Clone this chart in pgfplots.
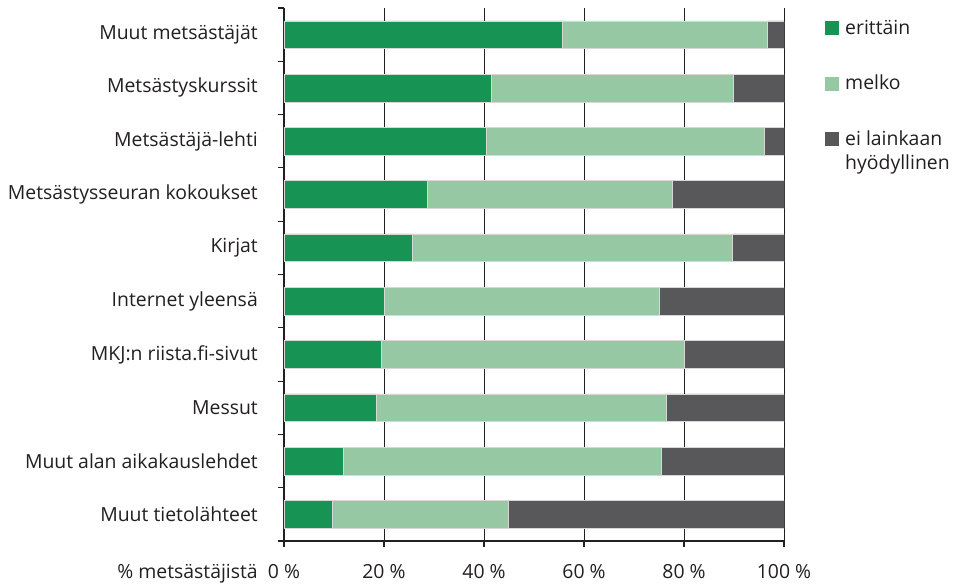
\documentclass[border=0pt]{standalone}
\usepackage{fontspec}
\setmainfont{Open Sans}
\usepackage{pgfplots}
\usepackage{pgfplotstable}
\pgfplotsset{compat=1.18}
\definecolor{dg}{RGB}{23,148,83}
\definecolor{lg}{RGB}{151,200,164}
\definecolor{gr}{RGB}{88,88,90}
\definecolor{txt}{RGB}{35,31,32}
\definecolor{edge}{RGB}{215,215,215}
\pgfplotsset{raisedsq/.style={legend image code/.code={\fill[##1, draw=none] (0pt,5pt) rectangle (14pt,19pt);}}}
\pgfplotstableread{
row e m ei
0 55.7 41.0 3.3
1 41.5 48.3 10.2
2 40.5 55.6 3.9
3 28.7 49.0 22.3
4 25.7 63.9 10.4
5 20.1 55.0 24.9
6 19.5 60.5 20.0
7 18.4 58.0 23.6
8 11.9 63.5 24.6
9 9.6 35.2 55.2
}\datatable
\begin{document}
\fontsize{19.4}{24}\selectfont
\begin{tikzpicture}
\path[use as bounding box] (-284pt,-44pt) rectangle (673pt,541pt);
\begin{axis}[
  scale only axis, width=500pt, height=533pt,
  xbar stacked, bar width=0.52,
  xmin=0, xmax=100, ymin=-0.5, ymax=9.5, y dir=reverse,
  axis x line*=bottom, axis y line*=left,
  axis line style={line width=1.2pt, color=txt},
  tick align=outside, major tick length=6pt,
  tick style={line width=1.2pt, color=txt},
  xtick={0,20,...,100},
  xticklabels={0 \%, 20 \%, 40 \%, 60 \%, 80 \%, 100 \%},
  xticklabel style={text=txt, anchor=base, yshift=-31pt},
  ytick={-0.5,0.5,...,9.5}, yticklabels={},
  extra y ticks={0,...,9},
  extra y tick labels={Muut metsästäjät, Metsästyskurssit, Metsästäjä-lehti, Metsästysseuran kokoukset, Kirjat, Internet yleensä, MKJ:n riista.fi-sivut, Messut, Muut alan aikakauslehdet, Muut tietolähteet},
  extra y tick style={major tick length=0pt, yticklabel style={text=txt, anchor=east, inner sep=0pt, xshift=-26pt}},
  xmajorgrids=true, ymajorgrids=false,
  grid style={line width=1pt, color=txt},
  xlabel={\% metsästäjistä},
  x label style={at={(axis description cs:0,0)}, anchor=base east, xshift=-26pt, yshift=-37pt, text=txt, inner sep=0pt},
  legend cell align=left,
  legend style={draw=none, fill=none, at={(1.082,0.98)}, anchor=north west, inner sep=0pt, row sep=36pt, column sep=5pt,
    nodes={inner sep=1pt, text=txt, align=left}},
  legend image code/.code={\fill[#1, draw=none] (0pt,-7pt) rectangle (14pt,7pt);},
]
\addplot[fill=dg, draw=edge, line width=0.5pt] table[x=e, y=row] {\datatable};
\addplot[fill=lg, draw=edge, line width=0.5pt] table[x=m, y=row] {\datatable};
\addplot[fill=gr, draw=edge, line width=0.5pt, raisedsq] table[x=ei, y=row] {\datatable};
\legend{erittäin, melko, {ei lainkaan\\hyödyllinen}}
\end{axis}
\end{tikzpicture}
\end{document}
